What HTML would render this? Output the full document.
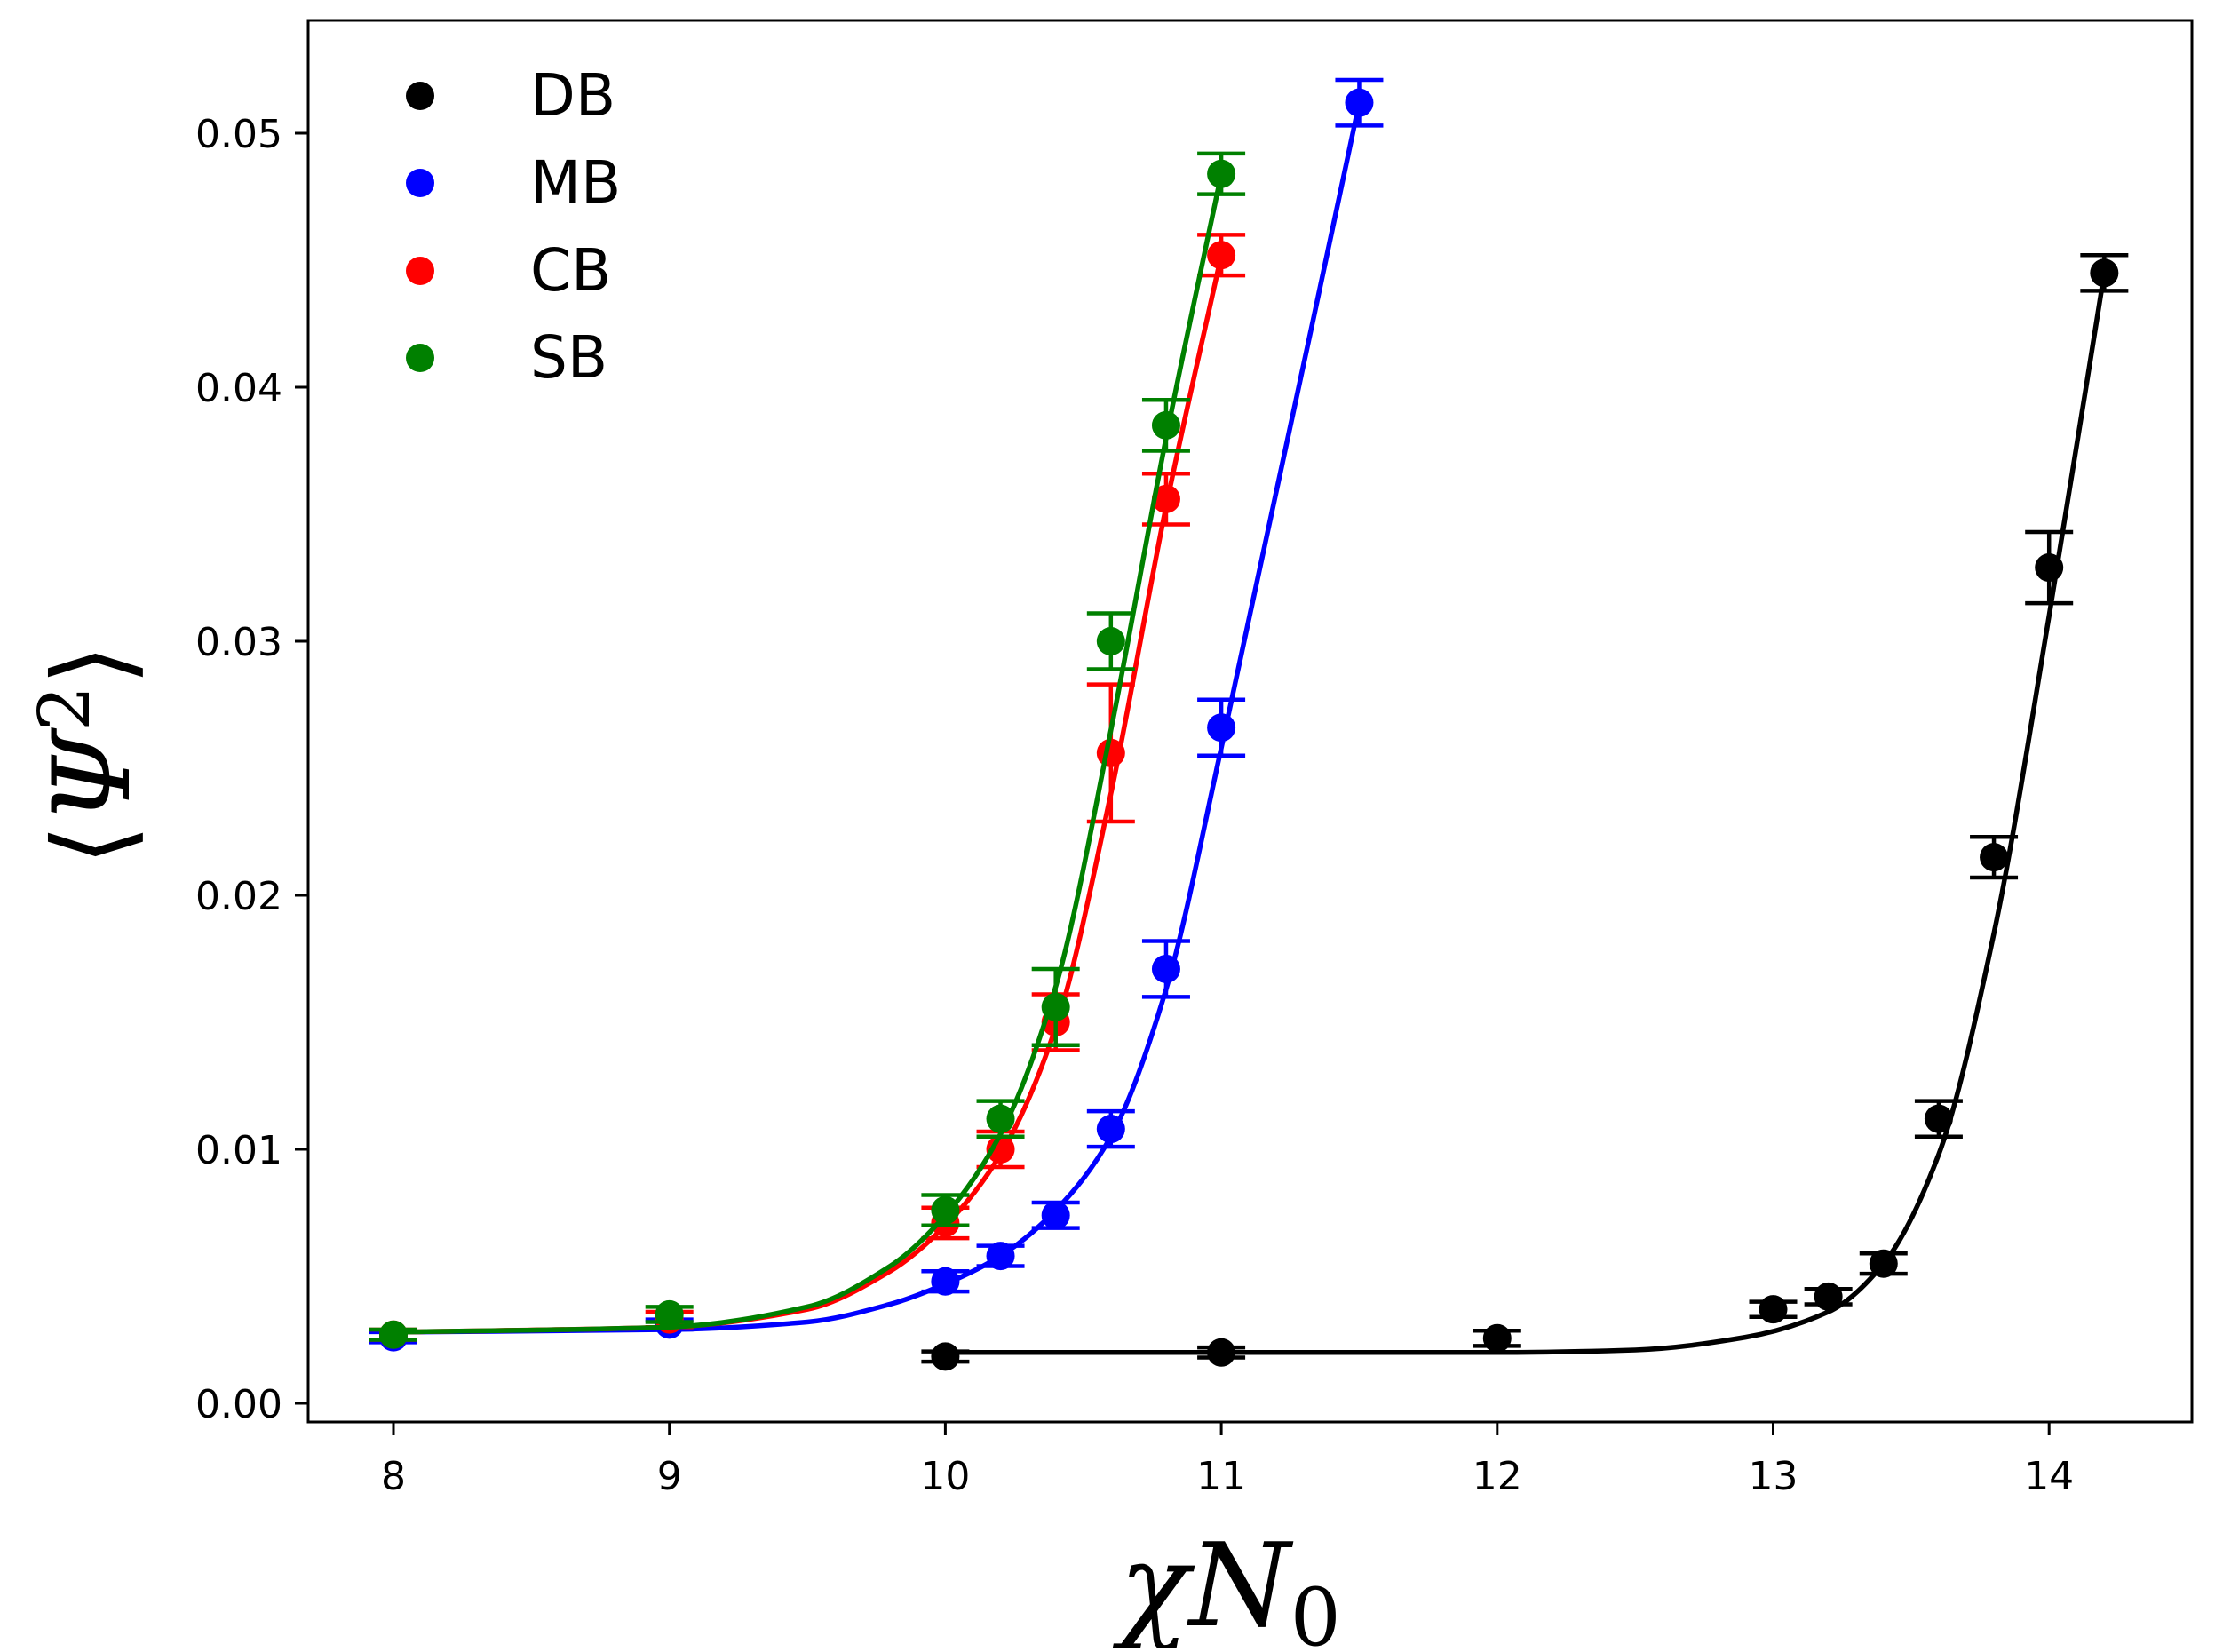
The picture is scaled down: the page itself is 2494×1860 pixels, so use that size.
<!DOCTYPE html>
<html><head><meta charset="utf-8"><style>
html,body{margin:0;padding:0;background:#fff;}
svg text{font-family:"DejaVu Sans","Liberation Sans",sans-serif;}
</style></head><body>
<svg id="chart" width="2494" height="1855" viewBox="0 0 2494 1855" xmlns="http://www.w3.org/2000/svg">
<rect width="2494" height="1855" fill="#fff"/>
<g id="plot"></g>
<rect x="347" y="23" width="2121" height="1578" fill="none" stroke="#000" stroke-width="3"/>
<g id="axes"></g>
<g>
<circle cx="473" cy="108" r="16" fill="#000"/><text x="597" y="130" font-size="66">DB</text>
<circle cx="473" cy="206" r="16" fill="#0000ff"/><text x="597" y="228" font-size="66">MB</text>
<circle cx="473" cy="305" r="16" fill="#ff0000"/><text x="597" y="327" font-size="66">CB</text>
<circle cx="473" cy="403" r="16" fill="#008000"/><text x="597" y="425" font-size="66">SB</text>
</g>
<text x="1385" y="1830" text-anchor="middle" font-size="130" font-style="italic" style="font-family:'DejaVu Serif','Liberation Serif',serif">χN<tspan font-size="90" font-style="normal" dy="22">0</tspan></text>
<text transform="translate(145,850) rotate(-90)" text-anchor="middle" font-size="120" style="font-family:'DejaVu Serif','Liberation Serif',serif">⟨<tspan font-style="italic">Ψ</tspan><tspan font-size="80" dy="-45">2</tspan><tspan dy="45">⟩</tspan></text>
</svg>
<script>
const xTicks=[8,9,10,11,12,13,14];
const yTicks=[0,0.01,0.02,0.03,0.04,0.05];
const yTickLabels=["0.00","0.01","0.02","0.03","0.04","0.05"];
const dbX=[10,11,12,13,13.2,13.4,13.6,13.8,14,14.2];
const dbY=[0.00184,0.0020,0.00256,0.0037,0.0042,0.0055,0.0112,0.0215,0.0329,0.0445];
const dbE=[0.0002,0.0002,0.0003,0.0003,0.0003,0.0004,0.0007,0.0008,0.0014,0.0007];
const mbX=[8,9,10,10.2,10.4,10.6,10.8,11,11.5];
const mbY=[0.0026,0.0031,0.0048,0.0058,0.0074,0.0108,0.0171,0.0266,0.0512];
const mbE=[0.0002,0.0002,0.0004,0.0004,0.0005,0.0007,0.0011,0.0011,0.0009];
const cbX=[8,9,10,10.2,10.4,10.6,10.8,11];
const cbY=[0.0027,0.0033,0.0071,0.0100,0.0150,0.0256,0.0356,0.0452];
const cbE=[0.0002,0.0003,0.0006,0.0007,0.0011,0.0027,0.0010,0.0008];
const sbX=[8,9,10,10.2,10.4,10.6,10.8,11];
const sbY=[0.0027,0.0035,0.0076,0.0112,0.0156,0.0300,0.0385,0.0484];
const sbE=[0.0002,0.0003,0.0006,0.0007,0.0015,0.0011,0.0010,0.0008];
const dbFitX=[10,12,12.5,12.9,13.2,13.4,13.6,13.8,14,14.2];
const dbFitY=[0.0020,0.0020,0.0021,0.0026,0.0036,0.0055,0.0098,0.0185,0.0310,0.0445];
const mbFitX=[8,9,9.5,9.8,10,10.2,10.4,10.6,10.8,11,11.5];
const mbFitY=[0.0028,0.0029,0.0032,0.0039,0.0047,0.0058,0.0076,0.0105,0.0163,0.0258,0.0512];
const cbFitX=[8,9,9.5,9.8,10,10.2,10.4,10.6,10.8,11];
const cbFitY=[0.0028,0.0030,0.0037,0.0052,0.0070,0.0098,0.0148,0.0240,0.0353,0.0452];
const sbFitX=[8,9,9.5,9.8,10,10.2,10.4,10.6,10.8,11];
const sbFitY=[0.0028,0.0030,0.0038,0.0054,0.0074,0.0106,0.0164,0.0265,0.0380,0.0484];

const X=v=>443+(v-8)*310.7;
const Y=v=>1580-v*28600;
const NS='http://www.w3.org/2000/svg';
function mk(tag,attrs,parent){const e=document.createElementNS(NS,tag);for(const k in attrs)e.setAttribute(k,attrs[k]);parent.appendChild(e);return e;}
const plot=document.getElementById('plot'),axes=document.getElementById('axes');

xTicks.forEach(t=>{
  const l=mk('line',{x1:X(t),x2:X(t),y1:1601,y2:1616,stroke:'#000','stroke-width':3},axes);
  
  
  const tx=mk('text',{x:X(t),y:1677,'text-anchor':'middle','font-size':44},axes);
  tx.textContent=t;
  
  
});
yTicks.forEach((t,i)=>{
  const l=mk('line',{x1:332,x2:347,y1:Y(t),y2:Y(t),stroke:'#000','stroke-width':3},axes);
  
  
  const tx=mk('text',{x:318,y:Y(t)+16,'text-anchor':'end','font-size':44},axes);
  tx.textContent=yTickLabels[i];
  
  
});

function mono(xs,ys){
  const n=xs.length,d=[],m=[];
  for(let i=0;i<n-1;i++)d.push((ys[i+1]-ys[i])/(xs[i+1]-xs[i]));
  m[0]=d[0];m[n-1]=d[n-2];
  for(let i=1;i<n-1;i++){m[i]=d[i-1]*d[i]<=0?0:2/(1/d[i-1]+1/d[i]);}
  let p='M'+X(xs[0])+','+Y(ys[0]);
  for(let i=0;i<n-1;i++){
    const h=xs[i+1]-xs[i];
    const c1x=xs[i]+h/3,c1y=ys[i]+m[i]*h/3,c2x=xs[i+1]-h/3,c2y=ys[i+1]-m[i+1]*h/3;
    p+=' C'+X(c1x)+','+Y(c1y)+' '+X(c2x)+','+Y(c2y)+' '+X(xs[i+1])+','+Y(ys[i+1]);
  }
  return p;
}
const series=[
 {n:'db',c:'#000000',x:dbX,y:dbY,e:dbE,fx:dbFitX,fy:dbFitY},
 {n:'mb',c:'#0000ff',x:mbX,y:mbY,e:mbE,fx:mbFitX,fy:mbFitY},
 {n:'cb',c:'#ff0000',x:cbX,y:cbY,e:cbE,fx:cbFitX,fy:cbFitY},
 {n:'sb',c:'#008000',x:sbX,y:sbY,e:sbE,fx:sbFitX,fy:sbFitY}
];
series.forEach(s=>{
  const g=mk('g',{},plot);
  
  
  const path=mk('path',{d:mono(s.fx,s.fy),fill:'none',stroke:s.c,'stroke-width':5.5},g);
  
  
  s.x.forEach((xv,i)=>{
    const cx=X(xv),top=Y(s.y[i]+s.e[i]),bot=Y(s.y[i]-s.e[i]);
    const eb=mk('path',{d:`M${cx},${top}V${bot}M${cx-27},${top}H${cx+27}M${cx-27},${bot}H${cx+27}`,stroke:s.c,'stroke-width':4.5,fill:'none'},g);
    
    
    const pt=mk('circle',{cx:cx,cy:Y(s.y[i]),r:16,fill:s.c},g);
    
    
  });
});
</script>
</body></html>
